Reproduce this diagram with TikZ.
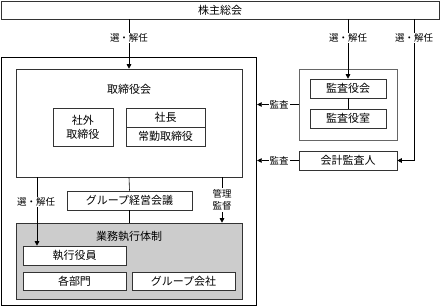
\documentclass[tikz,border=0pt]{standalone}
\usepackage{fontspec}
\setmainfont{Noto Sans CJK JP}
\usetikzlibrary{arrows.meta}
\begin{document}
\begin{tikzpicture}[x=1pt,y=-1pt,
  box/.style={draw=black!80,line width=0.6pt,fill=white,inner sep=0pt,font=\fontsize{11}{13}\selectfont},
  lbl/.style={fill=white,inner sep=1pt,font=\fontsize{9.5}{12}\selectfont,align=center},
  txt/.style={inner sep=0pt,font=\fontsize{11}{13}\selectfont},
  conn/.style={draw=black,line width=0.6pt},
  arr/.style={conn,-{Triangle[length=4.5pt,width=4.5pt]}}]
\useasboundingbox (0,0) rectangle (440,308);
% boxes
\node[box,minimum width=438pt,minimum height=18pt] (top) at (220,10) {株主総会};
\node[draw=black,line width=1.3pt,minimum width=255pt,minimum height=248pt,inner sep=0pt] (outer) at (129,181.5) {};
\node[box,minimum width=226pt,minimum height=108pt] (board) at (129,123) {};
\node[txt] (boardt) at (129,89) {取締役会};
\node[box,minimum width=60pt,minimum height=38pt,align=center,font=\fontsize{11}{14}\selectfont] (outside) at (83,127) {社外\\取締役};
\node[box,minimum width=79pt,minimum height=19pt] (pres) at (165.5,117.5) {社長};
\node[box,minimum width=79pt,minimum height=19pt] (fulltime) at (165.5,136.5) {常勤取締役};
\node[box,draw=black!60,minimum width=98pt,minimum height=71pt] (audgrp) at (348,104.5) {};
\node[box,minimum width=76pt,minimum height=19pt] (kab) at (348,88.5) {監査役会};
\node[box,minimum width=76pt,minimum height=19pt] (kao) at (348,118.5) {監査役室};
\node[box,minimum width=98pt,minimum height=19pt] (acct) at (348,160.5) {会計監査人};
\node[box,minimum width=125pt,minimum height=19pt] (gm) at (129.5,200.5) {グループ経営会議};
\node[box,fill=black!20,minimum width=226pt,minimum height=76pt] (exec) at (129,261) {};
\node[txt] (exect) at (129,236) {業務執行体制};
\node[box,minimum width=103pt,minimum height=19pt] (officer) at (74.5,255.5) {執行役員};
\node[box,minimum width=103pt,minimum height=18pt] (dept) at (74.5,281) {各部門};
\node[box,minimum width=103pt,minimum height=18pt] (gc) at (183.5,281) {グループ会社};
% connectors from shareholders
\draw[arr] (top.south -| board.north) -- (board.north);
\node[lbl] (l1) at (129,38) {選・解任};
\draw[arr] (top.south -| kab.north) -- (kab.north);
\node[lbl] (l2) at (348,38) {選・解任};
\coordinate (c3) at (414,160.5);
\draw[arr] (top.south -| c3) -- (c3) -- (acct.east);
\node[lbl] (l3) at (414,38) {選・解任};
% audits
\draw[arr] (audgrp.west) -- (audgrp.west -| outer.east);
\node[lbl] (l4) at (279,104.5) {監査};
\draw[arr] (acct.west) -- (acct.west -| outer.east);
\node[lbl] (l5) at (279,160.5) {監査};
\draw[conn] (kab.south) -- (kao.north);
% board to exec
\coordinate (c6) at (37,177);
\draw[arr] (c6) -- (c6 |- officer.north);
\node[lbl] (l6) at (36,202) {選・解任};
\draw[conn] (board.south) -- (gm.north);
\draw[conn] (gm.south) -- (gm.south |- exec.north);
\coordinate (c7) at (222,177);
\draw[arr] (c7) -- (c7 |- exec.north);
\node[lbl,font=\fontsize{9.5}{12.5}\selectfont] (l7) at (222,200) {管理\\監督};
\end{tikzpicture}
\end{document}
